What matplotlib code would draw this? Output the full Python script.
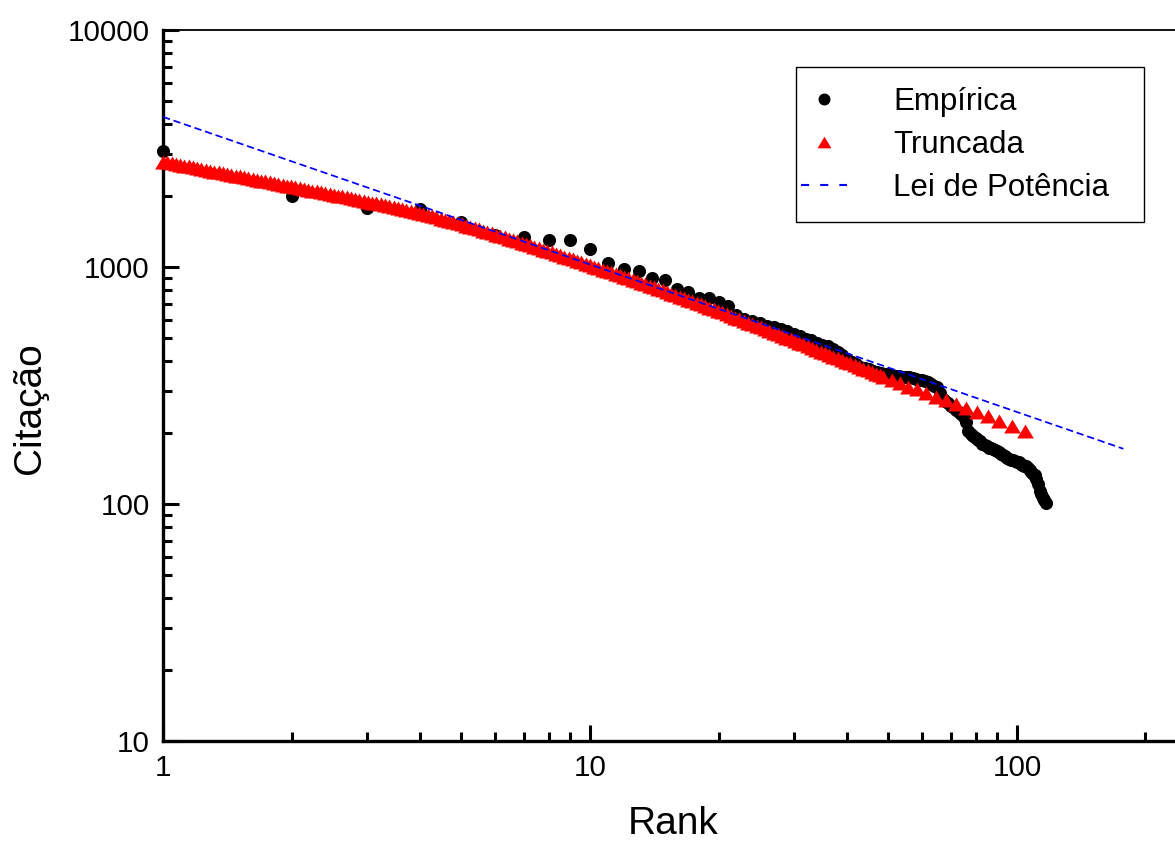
import numpy as np
import matplotlib
matplotlib.use('Agg')
import matplotlib.pyplot as plt
from matplotlib import ticker
from matplotlib.legend_handler import HandlerLine2D

plt.rcParams['font.family'] = ['Liberation Sans', 'DejaVu Sans']

# empirical citations, one per rank
emp_rank = list(range(1, 118))
emp_cit = [3100, 2000, 1770, 1760, 1550, 1370, 1340, 1305, 1305, 1195,
           1040, 985, 960, 900, 880, 805, 785, 742, 738, 710,
           687, 625, 605, 592, 582, 565, 556, 545, 535, 522,
           512, 498, 490, 480, 470, 462, 452, 440, 425, 410,
           398, 388, 380, 375, 370, 365, 361, 358, 355, 352,
           350, 348, 346, 345, 344, 343, 341, 338, 335, 332,
           329, 326, 321, 316, 311, 295, 278, 272, 266, 260,
           256, 250, 245, 240, 233, 222, 204, 197, 193, 190,
           187, 184, 180, 177, 175, 173, 172, 170, 169, 168,
           165, 163, 161, 159, 157, 155, 154, 153, 152, 151,
           150, 148, 146, 145, 144, 142, 139, 136, 134, 132,
           128, 122, 114, 110, 106, 104, 101]

# truncated fit, read along the red band
trunc_rank = [1.000, 1.023, 1.047, 1.072, 1.096, 1.122, 1.148, 1.175, 1.202, 1.230,
              1.259, 1.288, 1.318, 1.349, 1.380, 1.413, 1.445, 1.479, 1.514, 1.549,
              1.585, 1.622, 1.660, 1.698, 1.738, 1.778, 1.820, 1.862, 1.905, 1.950,
              1.995, 2.042, 2.089, 2.138, 2.188, 2.239, 2.291, 2.344, 2.399, 2.455,
              2.512, 2.570, 2.630, 2.692, 2.754, 2.818, 2.884, 2.951, 3.020, 3.090,
              3.162, 3.236, 3.311, 3.388, 3.467, 3.548, 3.631, 3.715, 3.802, 3.890,
              3.981, 4.074, 4.169, 4.266, 4.365, 4.467, 4.571, 4.677, 4.786, 4.898,
              5.012, 5.129, 5.248, 5.370, 5.495, 5.623, 5.754, 5.888, 6.026, 6.166,
              6.310, 6.457, 6.607, 6.761, 6.918, 7.079, 7.244, 7.413, 7.586, 7.762,
              7.943, 8.128, 8.318, 8.511, 8.710, 8.913, 9.120, 9.333, 9.550, 9.772,
              10.00, 10.23, 10.47, 10.72, 10.96, 11.22, 11.48, 11.75, 12.02, 12.30,
              12.59, 12.88, 13.18, 13.49, 13.80, 14.13, 14.45, 14.79, 15.14, 15.49,
              15.85, 16.22, 16.60, 16.98, 17.38, 17.78, 18.20, 18.62, 19.05, 19.50,
              19.95, 20.42, 20.89, 21.38, 21.88, 22.39, 22.91, 23.44, 23.99, 24.55,
              25.12, 25.70, 26.30, 26.92, 27.54, 28.18, 28.84, 29.51, 30.20, 30.90,
              31.62, 32.36, 33.11, 33.88, 34.67, 35.48, 36.31, 37.15, 38.02, 38.90,
              39.81, 40.74, 41.69, 42.66, 43.65, 44.67, 45.71, 46.77, 47.86,
              48.6, 50.9, 53.2, 55.7, 58.2, 61.1, 64.5, 68.1, 72.0, 75.9,
              80.5, 85.5, 90.9, 97.5, 104.4]
trunc_cit = [2786, 2764, 2742, 2720, 2698, 2677, 2655, 2633, 2612, 2591,
             2570, 2550, 2529, 2509, 2489, 2469, 2449, 2430, 2410, 2391,
             2372, 2352, 2333, 2315, 2296, 2278, 2260, 2242, 2224, 2206,
             2188, 2171, 2153, 2136, 2118, 2101, 2084, 2068, 2051, 2035,
             2018, 2001, 1984, 1968, 1951, 1934, 1918, 1901, 1885, 1869,
             1854, 1837, 1820, 1803, 1786, 1770, 1754, 1738, 1722, 1706,
             1690, 1672, 1654, 1636, 1618, 1600, 1582, 1565, 1548, 1531,
             1514, 1495, 1476, 1458, 1440, 1423, 1405, 1387, 1370, 1353,
             1337, 1319, 1301, 1284, 1267, 1250, 1233, 1217, 1201, 1185,
             1170, 1153, 1138, 1122, 1106, 1091, 1077, 1062, 1047, 1033,
             1018, 1004, 990, 976, 962, 948, 935, 922, 909, 896,
             883, 870, 858, 845, 833, 820, 808, 797, 785, 773,
             762, 750, 739, 728, 716, 705, 695, 684, 674, 663,
             653, 643, 632, 622, 612, 603, 593, 583, 574, 565,
             556, 547, 538, 529, 520, 512, 503, 495, 487, 479,
             471, 463, 455, 448, 440, 433, 426, 419, 412, 405,
             398, 392, 385, 379, 373, 366, 360, 354, 349,
             344, 334, 323, 313, 305, 295, 284, 275, 264, 254,
             244, 235, 225, 213, 204]

# power law fit (straight line in log-log), end points
pl_rank = [1, 177.5]
pl_cit = [4300, 171]


class OriginHandle(HandlerLine2D):
    # line sticks out to the left of the handle box, symbol sits near its right end
    def get_xdata(self, legend, xdescent, ydescent, width, height, fontsize):
        x0 = -xdescent
        xdata = np.array([x0 - 0.46 * width, x0 + width])
        return xdata, np.array([x0 + 0.81 * width])


W, H = 1175, 841
fig = plt.figure(figsize=(W / 100, H / 100), dpi=100)
ax = fig.add_axes([163 / W, 1 - 741 / H, 1 - 163 / W, (741 - 30) / H])

tri = [(-1, -0.84), (1, -0.84), (0, 0.84)]
ax.plot(emp_rank, emp_cit, linestyle='none', marker='o', ms=8.4, color='black',
        label='Empírica', clip_on=False, zorder=2)
ax.plot(trunc_rank, trunc_cit, linestyle='none', marker=tri, ms=12, color='red',
        markeredgewidth=0, label='Truncada', clip_on=False, zorder=3)
ax.plot(pl_rank, pl_cit, linestyle=(0, (4.2, 2.2)), lw=1.25, color='blue',
        label='Lei de Potência', zorder=4)

ax.set_xscale('log')
ax.set_yscale('log')
ax.set_xlim(1, 234.5)
ax.set_ylim(10, 10000)

fmt = ticker.FuncFormatter(lambda v, p: f'{v:g}')
ax.xaxis.set_major_formatter(fmt)
ax.yaxis.set_major_formatter(fmt)
ax.xaxis.set_minor_formatter(ticker.NullFormatter())
ax.yaxis.set_minor_formatter(ticker.NullFormatter())
ax.tick_params(which='major', direction='in', length=11.5, width=2.2,
               labelsize=21.3, pad=9.5, top=False, right=False)
ax.tick_params(which='minor', direction='in', length=6.3, width=2.2,
               top=False, right=False)

for s in ['left', 'bottom']:
    ax.spines[s].set_linewidth(2.4)
ax.spines['top'].set_linewidth(1.3)
ax.spines['right'].set_visible(False)

ax.set_xlabel('Rank', fontsize=28)
ax.set_ylabel('Citação', fontsize=28)
ax.xaxis.set_label_coords(0.504, -0.092)
ax.yaxis.set_label_coords(-0.114, 0.468)

leg = ax.legend(loc='upper left', bbox_to_anchor=(795.7 / W, 1 - 67.3 / H, 348.6 / W, 0),
                bbox_transform=fig.transFigure, mode='expand', borderaxespad=0,
                fontsize=22.5, numpoints=1, handlelength=1.01, handletextpad=1.48,
                borderpad=0.62, labelspacing=0.42, fancybox=False, framealpha=1,
                edgecolor='black', handler_map={plt.Line2D: OriginHandle()})
leg.get_frame().set_linewidth(1.0)
for h in leg.get_lines():
    if h.get_marker() == 'o':
        h.set_markersize(7.6)
    elif h.get_linestyle() == 'None':
        h.set_markersize(10)
    else:
        h.set_linewidth(1.5)
        h.set_linestyle((0, (3.9, 5.3)))

fig.savefig('out.png', dpi=100)
